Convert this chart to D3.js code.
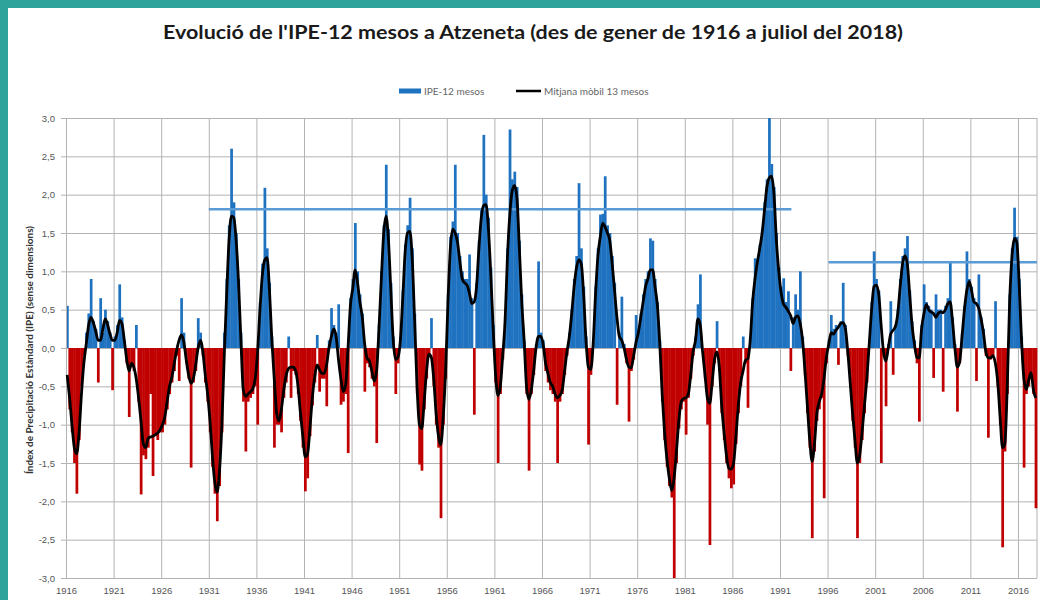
<!DOCTYPE html>
<html>
<head>
<meta charset="utf-8">
<script src="https://cdn.jsdelivr.net/npm/d3@7"></script>
<style>
  body { margin: 0; background: #fff; }
  svg { display: block; font-family: Lato, "Open Sans", sans-serif; }
</style>
</head>
<body>
<svg width="1040" height="600"></svg>
<script>
// IPE-12 mesos, Atzeneta, llegit per trimestres (gener 1916 - 2017)
const startYear = 1916;

const ipe = [
  0.55, -0.8, -1.1, -1.5,   -1.9, -1.2, -0.5, -0.1,   0.2, 0.45, 0.9, 0.35,   0.25, -0.45, 0.65, 0.2,   0.5, 0.35, 0.2, -0.55,
  0.15, 0.3, 0.83, 0.4,   0.1, -0.2, -0.9, -0.25,   -0.3, 0.3, -0.7, -1.91,   -1.4, -1.45, -1.3, -0.6,   -1.67, -1.15, -1.2, -1.1,
  -1.1, -1.0, -0.8, -0.6,   -0.45, -0.3, -0.1, -0.43,   0.65, 0.2, -0.2, -0.4,   -1.56, -0.45, -0.3, 0.39,   0.2, -0.1, -0.45, -0.7,
  -1.1, -1.55, -1.9, -2.26,   -1.8, -1.1, 0.2, 0.9,   1.6, 2.6, 1.9, 1.5,   0.9, 0.2, -0.7, -1.35,   -0.7, -0.65, -0.6, -0.5,
  -1.0, 0.6, 1.1, 2.09,   1.3, 0.85, 0.15, -1.3,   -1.0, -1.0, -1.1, -0.65,   -0.45, 0.15, -0.65, -0.3,   -0.35, -0.6, -0.95, -1.3,
  -1.87, -1.7, -1.15, -0.75,   -0.45, 0.17, -0.57, -0.4,   -0.4, -0.76, 0.1, 0.52,   0.3, 0.2, 0.57, -0.74,   -0.7, -0.6, -1.37, 0.65,
  0.9, 1.63, 1.0, 0.7,   0.45, -0.57, -0.2, -0.25,   -0.4, -0.5, -1.24, 0.3,   1.0, 1.6, 2.39, 1.55,   0.85, 0.15, -0.6, -0.2,
  0.15, 0.75, 1.35, 1.6,   1.96, 1.3, 0.45, -0.6,   -1.52, -1.6, -0.8, -0.4,   -0.1, 0.39, -0.5, -1.0,   -1.3, -2.22, -1.0, -0.4,
  0.7, 1.45, 1.65, 2.39,   1.5, 1.2, 1.0, 0.9,   0.9, 1.22, 0.65, -0.87,   0.85, 1.4, 1.8, 2.78,   2.0, 1.7, 1.05, 0.3,
  -0.45, -1.5, -0.6, -0.15,   0.4, 1.3, 2.85, 2.2,   2.3, 2.1, 1.4, 0.7,   0.1, -0.6, -1.6, -0.6,   -0.35, 0.05, 1.13, 0.2,
  0.1, -0.3, -0.45, -0.55,   -0.6, -0.7, -1.5, -0.7,   -0.6, -0.35, -0.1, 0.2,   0.5, 0.9, 1.2, 2.15,   1.3, 0.8, 0.15, -1.26,
  -0.35, 0.1, 0.8, 1.3,   1.74, 1.75, 2.24, 1.6,   1.5, 1.2, 0.85, -0.74,   0.2, 0.67, 0.05, -0.2,   -0.96, -0.3, -0.15, 0.43,
  0.25, 0.45, 0.7, 0.9,   1.0, 1.43, 1.4, 0.9,   0.6, 0.1, -0.7, -1.2,   -1.55, -1.8, -1.95, -3.0,   -1.5, -1.05, -0.8, -0.7,
  -1.13, -0.65, -0.4, -0.1,   0.15, 0.57, 0.96, 0.0,   -0.4, -1.0, -2.57, -0.5,   -0.2, 0.35, -0.3, -0.85,   -1.2, -1.5, -1.7, -1.83,
  -1.78, -1.25, -0.85, -0.5,   0.15, -0.2, -0.78, 0.15,   0.65, 1.17, 1.15, 1.35,   1.55, 1.9, 2.2, 3.0,   2.4, 2.1, 1.5, 1.05,
  0.8, 0.91, 0.6, 0.74,   -0.3, 0.4, 0.7, 0.5,   1.0, 0.15, -0.35, -0.85,   -1.3, -2.48, -1.35, -0.95,   -0.8, -0.65, -1.96, -0.2,
  0.1, 0.43, 0.25, 0.3,   -0.22, 0.35, 0.85, 0.3,   -0.1, -0.5, -0.95, -1.3,   -2.48, -1.5, -1.2, -0.85,   -0.45, 0.1, 0.6, 1.26,
  0.9, 0.75, -1.5, -0.1,   -0.76, 0.05, 0.61, -0.35,   0.3, 0.5, 0.9, 1.2,   1.3, 1.46, 0.75, 0.35,   0.1, -0.2, -0.96, 0.3,
  0.83, 0.6, 0.55, 0.5,   -0.39, 0.7, 0.5, 0.5,   -0.57, 0.55, 0.65, 1.13,   0.4, 0.05, -0.83, -0.2,   0.2, 0.55, 1.26, 0.9,
  0.8, 0.65, -0.43, 0.96,   0.4, 0.25, -0.1, -1.17,   -0.15, -0.1, 0.61, -0.5,   -1.0, -2.6, -1.35, -0.6,   0.7, 1.3, 1.83, 1.45,
  0.9, 0.15, -1.56, -0.6,   -0.5, -0.4, -0.6, -2.09
];

// Mitjana mòbil 13 mesos (mateixos trimestres)
const mitjana = [
  -0.35, -0.65, -1.0, -1.3,   -1.38, -1.1, -0.6, -0.2,   0.05, 0.3, 0.4, 0.33,   0.22, 0.1, 0.1, 0.25,   0.38, 0.3, 0.18, 0.1,
  0.1, 0.2, 0.36, 0.32,   0.1, -0.15, -0.3, -0.2,   -0.25, -0.4, -0.65, -0.95,   -1.25, -1.3, -1.18, -1.16,   -1.15, -1.13, -1.11, -1.07,
  -1.0, -0.9, -0.7, -0.5,   -0.38, -0.2, -0.03, 0.1,   0.17, 0.08, -0.15, -0.35,   -0.46, -0.4, -0.22, 0.0,   0.1, -0.05, -0.35, -0.6,
  -0.95, -1.4, -1.75, -1.88,   -1.6, -1.0, -0.1, 0.7,   1.4, 1.72, 1.7, 1.4,   0.85, 0.1, -0.55, -0.63,   -0.6, -0.57, -0.53, -0.4,
  -0.05, 0.5, 0.95, 1.15,   1.18, 0.75, 0.1, -0.4,   -0.85, -0.95, -0.8, -0.55,   -0.36, -0.27, -0.25, -0.25,   -0.3, -0.5, -0.85, -1.15,
  -1.42, -1.38, -1.05, -0.65,   -0.38, -0.22, -0.28, -0.33,   -0.33, -0.22, 0.0, 0.15,   0.25, 0.15, -0.15, -0.4,   -0.57, -0.48, 0.0, 0.55,
  0.78, 1.02, 0.85, 0.6,   0.4, 0.05, -0.13, -0.17,   -0.3, -0.43, -0.3, 0.25,   0.9, 1.5, 1.72, 1.4,   0.75, 0.1, -0.15, -0.12,
  0.1, 0.65, 1.25, 1.5,   1.52, 1.15, 0.35, -0.5,   -1.0, -1.05, -0.7, -0.3,   -0.08, -0.12, -0.4, -0.85,   -1.15, -1.26, -0.9, -0.3,
  0.6, 1.3, 1.55, 1.5,   1.38, 1.13, 0.9, 0.85,   0.82, 0.72, 0.58, 0.6,   0.8, 1.3, 1.7, 1.86,   1.87, 1.55, 0.95, 0.25,
  -0.35, -0.62, -0.5, -0.1,   0.35, 1.2, 1.75, 2.05,   2.12, 1.95, 1.3, 0.6,   0.1, -0.5, -0.67, -0.55,   -0.3, 0.0, 0.15, 0.15,
  0.05, -0.2, -0.33, -0.45,   -0.5, -0.6, -0.65, -0.62,   -0.55, -0.3, -0.05, 0.15,   0.45, 0.8, 1.05, 1.15,   1.1, 0.7, 0.1, -0.25,
  -0.28, 0.05, 0.7, 1.2,   1.45, 1.63, 1.58, 1.5,   1.4, 1.1, 0.75, 0.4,   0.15, 0.1, 0.0, -0.15,   -0.25, -0.26, -0.1, 0.07,
  0.2, 0.4, 0.6, 0.8,   0.9, 1.02, 1.02, 0.8,   0.55, 0.05, -0.6, -1.1,   -1.45, -1.7, -1.86, -1.7,   -1.35, -0.95, -0.7, -0.66,
  -0.65, -0.6, -0.35, -0.05,   0.1, 0.38, 0.3, -0.05,   -0.35, -0.65, -0.72, -0.45,   -0.15, -0.05, -0.25, -0.75,   -1.1, -1.4, -1.57, -1.58,
  -1.5, -1.15, -0.75, -0.45,   -0.3, -0.16, -0.14, 0.1,   0.6, 0.9, 1.12, 1.3,   1.5, 1.8, 2.1, 2.22,   2.24, 2.0, 1.4, 1.0,
  0.72, 0.57, 0.53, 0.48,   0.42, 0.32, 0.4, 0.42,   0.32, 0.1, -0.3, -0.75,   -1.2, -1.48, -1.25, -0.85,   -0.7, -0.6, -0.4, -0.12,
  0.05, 0.2, 0.18, 0.23,   0.27, 0.32, 0.33, 0.25,   -0.05, -0.45, -0.85, -1.2,   -1.5, -1.4, -1.1, -0.75,   -0.4, 0.05, 0.5, 0.8,
  0.82, 0.7, 0.3, -0.05,   -0.17, 0.0, 0.18, 0.23,   0.28, 0.45, 0.8, 1.1,   1.2, 1.1, 0.7, 0.3,   0.05, -0.12, -0.13, 0.25,
  0.45, 0.57, 0.5, 0.47,   0.45, 0.4, 0.45, 0.47,   0.46, 0.5, 0.58, 0.6,   0.35, 0.0, -0.25, -0.18,   0.15, 0.5, 0.75, 0.87,
  0.75, 0.6, 0.58, 0.52,   0.38, 0.2, -0.05, -0.13,   -0.13, -0.1, -0.2, -0.45,   -0.9, -1.3, -1.25, -0.5,   0.6, 1.2, 1.43, 1.38,
  0.85, 0.1, -0.4, -0.54,   -0.42, -0.32, -0.55, -0.65
];

const tickYears = [1916, 1921, 1926, 1931, 1936, 1941, 1946, 1951, 1956, 1961, 1966,
                   1971, 1976, 1981, 1986, 1991, 1996, 2001, 2006, 2011, 2016];
const yTicks = [-3, -2.5, -2, -1.5, -1, -0.5, 0, 0.5, 1, 1.5, 2, 2.5, 3];

// línies horitzontals de referència
const refFrom = [1931.0, 1996.1];
const refTo = [1992.2, 2018];
const refValue = [1.81, 1.12];

const svg = d3.select("svg");
const W = 1040, H = 600;
const plotLeft = 66, plotRight = 1037, plotTop = 118, plotBottom = 578;

const blue = "#1f72c0", red = "#c00000", grid = "#b3b3b3";

svg.append("rect").attr("width", W).attr("height", H).attr("fill", "#fff");

const x = d3.scaleLinear().domain([1916, 2018]).range([plotLeft, plotRight]);
const y = d3.scaleLinear().domain([-3, 3]).range([plotBottom, plotTop]);

const loc = d3.formatLocale({decimal: ",", thousands: ".", grouping: [3], currency: ["", " €"], minus: "-"});
const fmt = loc.format(".1f");

// graella horitzontal
const gy = svg.append("g")
    .attr("transform", `translate(${plotLeft},0)`)
    .call(d3.axisLeft(y).tickValues(yTicks).tickSize(-(plotRight - plotLeft)).tickFormat(""));
gy.select(".domain").remove();
gy.selectAll("line").attr("stroke", grid);

// graella vertical + etiquetes d'anys
const gx = svg.append("g")
    .attr("transform", `translate(0,${plotBottom})`)
    .call(d3.axisBottom(x).tickValues(tickYears).tickSize(-(plotBottom - plotTop)).tickPadding(9).tickFormat(d3.format("d")));
gx.select(".domain").remove();
gx.selectAll("line").attr("stroke", grid);
gx.selectAll("text").attr("fill", "#555").style("font-size", "9.5px");

// vora dreta
svg.append("line")
    .attr("x1", x(2018)).attr("x2", x(2018))
    .attr("y1", plotTop).attr("y2", plotBottom)
    .attr("stroke", grid);

// barres
const quarters = ipe.map((v, i) => ({t: startYear + i / 4, v}));
svg.append("g")
  .selectAll("rect")
  .data(quarters)
  .join("rect")
    .attr("x", d => x(d.t))
    .attr("width", d => x(d.t + 0.25) - x(d.t) + 0.35)
    .attr("y", d => y(Math.max(0, d.v)))
    .attr("height", d => Math.abs(y(d.v) - y(0)))
    .attr("fill", d => d.v >= 0 ? blue : red);

// eix Y
const ay = svg.append("g")
    .attr("transform", `translate(${plotLeft},0)`)
    .call(d3.axisLeft(y).tickValues(yTicks).tickSize(5).tickSizeOuter(0).tickPadding(6).tickFormat(fmt));
ay.select(".domain").attr("stroke", grid);
ay.selectAll("line").attr("stroke", grid);
ay.selectAll("text").attr("fill", "#555").style("font-size", "9.5px");

// línies de referència
svg.append("g")
  .selectAll("line")
  .data(refValue)
  .join("line")
    .attr("x1", (d, i) => x(refFrom[i]))
    .attr("x2", (d, i) => x(refTo[i]))
    .attr("y1", d => y(d))
    .attr("y2", d => y(d))
    .attr("stroke", "#5b9bd5")
    .attr("stroke-width", 2.5);

// mitjana mòbil
const pts = mitjana.map((v, i) => ({t: startYear + i / 4 + 0.125, v}));
svg.append("path")
    .datum(pts)
    .attr("fill", "none")
    .attr("stroke", "#000")
    .attr("stroke-width", 2.8)
    .attr("stroke-linejoin", "round")
    .attr("d", d3.line().x(d => x(d.t)).y(d => y(d.v)).curve(d3.curveMonotoneX));

// marc verd
svg.append("rect").attr("x", 0).attr("y", 0).attr("width", W).attr("height", 8).attr("fill", "#2ea39b");
svg.append("rect").attr("x", 0).attr("y", 0).attr("width", 8).attr("height", H).attr("fill", "#2ea39b");

// títol
svg.append("text")
    .attr("x", 533).attr("y", 39)
    .attr("text-anchor", "middle")
    .attr("textLength", 740)
    .attr("lengthAdjust", "spacingAndGlyphs")
    .style("font-size", "18px")
    .style("font-weight", "bold")
    .attr("fill", "#1a1a1a")
    .text("Evolució de l'IPE-12 mesos a Atzeneta (des de gener de 1916 a juliol del 2018)");

// títol eix Y
svg.append("text")
    .attr("transform", "translate(33,350) rotate(-90)")
    .attr("text-anchor", "middle")
    .style("font-size", "10px")
    .style("font-weight", "bold")
    .attr("fill", "#333")
    .text("Índex de Precipitació Estàndard (IPE) (sense dimensions)");

// llegenda
const leg = svg.append("g");
leg.append("rect").attr("x", 399).attr("y", 88.5).attr("width", 22).attr("height", 5).attr("fill", blue);
leg.append("text").attr("x", 424).attr("y", 94.5).style("font-size", "10px").attr("fill", "#666").text("IPE-12 mesos");
leg.append("line").attr("x1", 516).attr("x2", 541).attr("y1", 91).attr("y2", 91).attr("stroke", "#000").attr("stroke-width", 2.5);
leg.append("text").attr("x", 544).attr("y", 94.5).style("font-size", "10px").attr("fill", "#666").text("Mitjana mòbil 13 mesos");
</script>
</body>
</html>
